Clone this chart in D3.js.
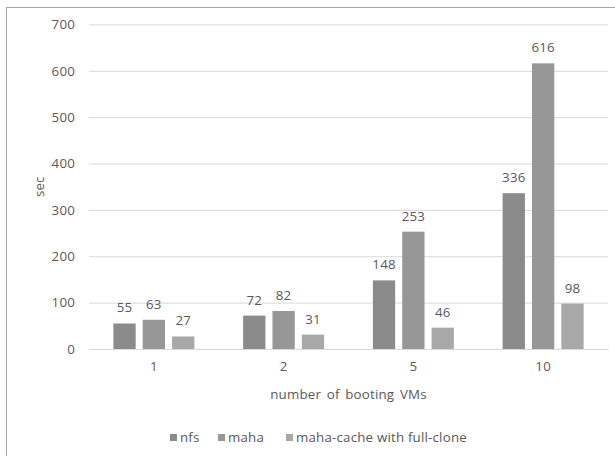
<!DOCTYPE html>
<html>
<head>
<meta charset="utf-8">
<script src="https://cdn.jsdelivr.net/npm/d3@7"></script>
<style>
  html, body { margin: 0; padding: 0; background: #fff; }
  svg text { font-family: "Open Sans", "DejaVu Sans", sans-serif; fill: #595959; font-size: 13.3px; letter-spacing: 0.2px; }
</style>
</head>
<body>
<svg id="chart" width="615" height="456"></svg>
<script>
// Boot time (sec) by number of VMs booting at once
const categories = ["1", "2", "5", "10"];
const seriesNames = ["nfs", "maha", "maha-cache with full-clone"];
const nfs = [55, 72, 148, 336];
const maha = [63, 82, 253, 616];
const mahaCache = [27, 31, 46, 98];
const yTicks = [0, 100, 200, 300, 400, 500, 600, 700];
const colors = ["#8b8b8b", "#979797", "#a8a8a8"];

const seriesValues = [nfs, maha, mahaCache];
const svg = d3.select("#chart");

// chart frame
svg.append("rect")
  .attr("x", 6.5).attr("y", 7.5)
  .attr("width", 620).attr("height", 460)
  .attr("fill", "#fff").attr("stroke", "#a6a6a6").attr("stroke-width", 1);

const plot = { left: 89, right: 608, top: 24.4, bottom: 349 };

const x = d3.scaleBand().domain(categories).range([plot.left, plot.right]).paddingInner(0).paddingOuter(0);
const inner = d3.scaleBand().domain(d3.range(seriesNames.length)).range([0, 81]).paddingInner(0.24);
const y = d3.scaleLinear().domain([0, 700]).range([plot.bottom, plot.top]);

// gridlines and value axis labels
const yAxis = d3.axisLeft(y).tickValues(yTicks).tickSize(-(plot.right - plot.left)).tickPadding(14);
const gy = svg.append("g").attr("transform", `translate(${plot.left},0)`).call(yAxis);
gy.select(".domain").remove();
gy.selectAll(".tick line").attr("stroke", "#d9d9d9");
gy.selectAll(".tick text").attr("font-size", null).attr("font-family", null).attr("fill", "#595959");

// bars
const groups = svg.append("g").selectAll("g")
  .data(categories)
  .join("g")
  .attr("transform", c => `translate(${x(c) + (x.bandwidth() - 81) / 2},0)`);

groups.each(function(c, ci) {
  const g = d3.select(this);
  seriesValues.forEach((vals, si) => {
    g.append("rect")
      .attr("x", inner(si))
      .attr("y", y(vals[ci]))
      .attr("width", inner.bandwidth())
      .attr("height", y(0) - y(vals[ci]))
      .attr("fill", colors[si]);
    g.append("text")
      .attr("x", inner(si) + inner.bandwidth() / 2)
      .attr("y", y(vals[ci]) - 11)
      .attr("text-anchor", "middle")
      .text(vals[ci]);
  });
});

// category axis
const xAxis = d3.axisBottom(x).tickSize(0).tickPadding(13);
const gx = svg.append("g").attr("transform", `translate(0,${plot.bottom})`).call(xAxis);
gx.select(".domain").attr("stroke", "#d9d9d9");
gx.selectAll(".tick text").attr("font-size", null).attr("font-family", null).attr("fill", "#595959");
svg.selectAll("g").attr("font-size", null).attr("font-family", null);

// axis titles
svg.append("text")
  .attr("x", (plot.left + plot.right) / 2).attr("y", 399)
  .attr("text-anchor", "middle")
  .style("word-spacing", "2px")
  .text("number of booting VMs");

svg.append("text")
  .attr("transform", `translate(44,${(plot.top + plot.bottom) / 2}) rotate(-90)`)
  .attr("text-anchor", "middle")
  .text("sec");

// legend
const legendX = [170, 218, 286];
const legend = svg.append("g").selectAll("g")
  .data(seriesNames)
  .join("g")
  .attr("transform", (d, i) => `translate(${legendX[i]},434)`);
legend.append("rect").attr("width", 7).attr("height", 7).attr("fill", (d, i) => colors[i]);
legend.append("text").attr("x", 10).attr("y", 8).text(d => d);
</script>
</body>
</html>
